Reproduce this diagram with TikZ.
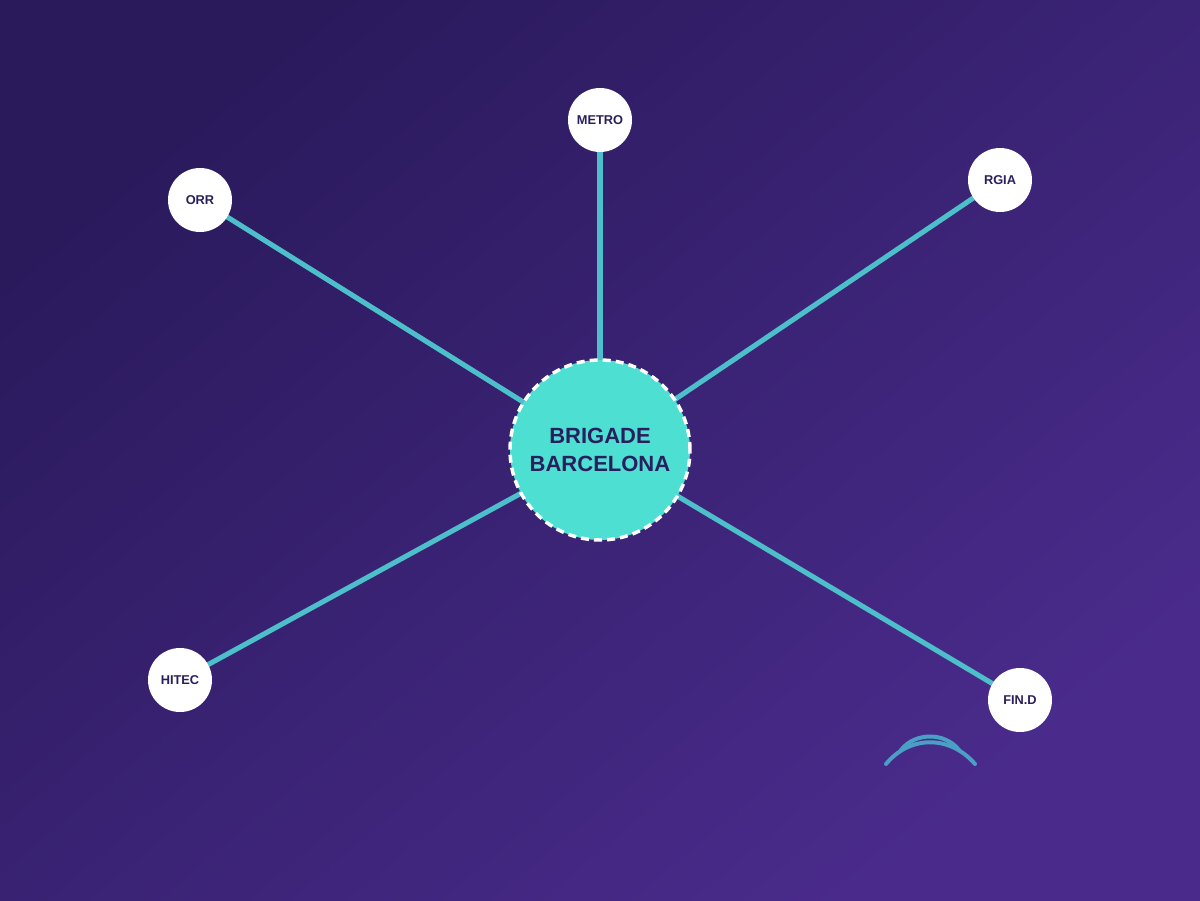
\documentclass[tikz,border=0pt]{standalone}
\usepackage{fontspec}
\setmainfont{Liberation Sans}
\definecolor{bgA}{HTML}{2A1A5C}
\definecolor{bgB}{HTML}{4A2B8C}
\definecolor{linkc}{HTML}{4CBFCB}
\definecolor{hubc}{HTML}{4DE0D2}
\definecolor{inkc}{HTML}{2A1F5E}
\definecolor{arcc}{HTML}{4A9FC4}
\pgfdeclarelayer{bgfill}
\pgfdeclarelayer{links}
\pgfsetlayers{bgfill,links,main}
\tikzset{
  px/.style={x=0.75pt,y=-0.75pt},
  hub/.style={circle,fill=hubc,draw=white,line width=2.6pt,dash pattern=on 6pt off 3.8pt,minimum size=135pt,inner sep=0pt,text=inkc,font=\fontsize{16.5}{20.5}\selectfont\bfseries,align=center},
  leaf/.style={circle,fill=white,minimum size=48pt,inner sep=0pt,text=inkc,font=\fontsize{9.6}{11}\selectfont\bfseries},
  link/.style={draw=linkc,line width=3.8pt},
  deco/.style={draw=arcc,line width=3pt,line cap=round}
}
\begin{document}
\begin{tikzpicture}[px]
\useasboundingbox (0,0) rectangle (1200,900);
\node[hub] (hub) at (600,450) {BRIGADE\\BARCELONA};
\node[leaf] (metro) at (600,120) {METRO};
\node[leaf] (orr) at (200,200) {ORR};
\node[leaf] (rgia) at (1000,180) {RGIA};
\node[leaf] (hitec) at (180,680) {HITEC};
\node[leaf] (find) at (1020,700) {FIN.D};
\begin{pgfonlayer}{bgfill}
\shade[top color=bgA,bottom color=bgB,shading angle=40] (0,0) rectangle (1200,900);
\end{pgfonlayer}
\begin{pgfonlayer}{links}
\foreach \n in {metro,orr,rgia,hitec,find}{
  \path[link] (hub.center) -- (\n.center);
}
\end{pgfonlayer}
\coordinate (a1) at (886,764);
\coordinate (a2) at (975,764);
\coordinate (b1) at (901,750);
\coordinate (b2) at (959,750);
\draw[deco] (a1) .. controls (910,735) and (950,735) .. (a2);
\draw[deco] (b1) .. controls (915,732) and (945,732) .. (b2);
\end{tikzpicture}
\end{document}
